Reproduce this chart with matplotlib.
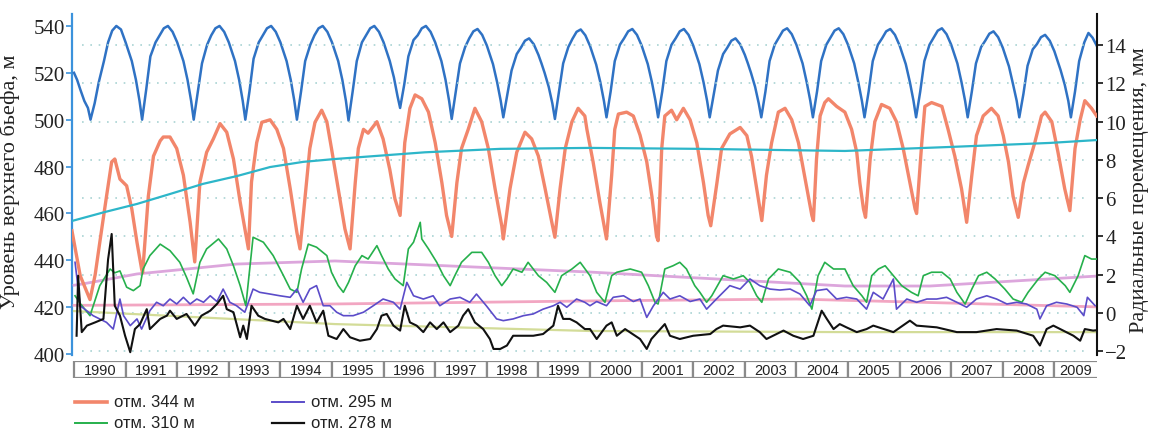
"""Sayano-Shushenskaya dam: upper pool level vs radial displacements, 1990-2009."""

import matplotlib
matplotlib.use("Agg")
import matplotlib.pyplot as plt
from matplotlib.patches import Rectangle
from matplotlib.lines import Line2D

SERIF = ["Liberation Serif", "DejaVu Serif"]
SANS = ["Liberation Sans", "DejaVu Sans"]

YEARS = list(range(1990, 2010))

# upper pool level, m (left axis): one row of 13 readings per year
LEVEL_PHASE = [0.00, 0.06, 0.12, 0.20, 0.27, 0.32, 0.40, 0.48, 0.58, 0.66, 0.74, 0.82, 0.91]
LEVEL = [
    520, 517, 513, 508, 505, 500, 507, 516, 525, 533, 538, 540, 538.5,
    533, 529, 525, 517, 508, 500, 513, 527, 533, 536, 539, 540, 537.5,
    533, 529, 525, 517, 508, 500, 512, 524, 532, 536, 539, 540, 537.5,
    533, 529, 525, 517, 508, 500, 512, 526, 533, 536, 539, 540, 537.5,
    533, 529, 525, 517, 508, 500, 512, 525, 532, 536, 539, 540, 537.5,
    533, 529, 525, 517, 508, 499.6, 512, 525, 533, 536, 539, 540, 537.5,
    533, 529, 525, 518, 510, 505, 515, 527, 534, 536, 539, 540, 537.5,
    533, 529, 525, 517, 508, 500.3, 512, 524, 531, 534.7, 537.7, 538.7, 536.2,
    531.7, 527.7, 523.7, 516, 508, 501, 511, 521, 528, 530.7, 533.7, 534.7, 532.2,
    527.7, 524, 520, 514, 507, 500.3, 512, 524, 531, 534.5, 537.5, 538.5, 536,
    531.5, 527.5, 523.5, 516, 508, 501, 512, 525, 532, 534.7, 537.7, 538.7, 536.2,
    531.7, 527.7, 523.7, 516, 508, 501, 512, 525, 532, 534.7, 537.7, 538.7, 536.2,
    531.7, 527.7, 523.7, 516, 508, 501, 511, 521, 528, 530.7, 533.7, 534.7, 532.2,
    527.7, 524, 520, 514, 507, 501, 512, 525, 532, 535, 538, 539, 536.5,
    532, 528, 524, 516, 508, 501, 512, 525, 532, 535, 538, 539, 536.5,
    532, 528, 524, 516, 508, 501, 512, 525, 532, 534.7, 537.7, 538.7, 536.2,
    531.7, 527.7, 523.7, 516, 508, 501, 512, 525, 532, 535, 538, 539, 536.5,
    532, 528, 524, 516, 508, 501, 512, 524, 531, 533.7, 536.7, 537.7, 535.2,
    530.7, 526.7, 522.7, 515, 508, 501, 511, 523, 530, 532.2, 535.2, 536.2, 533.7,
    529.2, 525.2, 521.2, 515, 508, 501, 512, 525, 533, 537, 535, 531.6, 527,
]

# радиальные перемещения, мм (right axis)
T_344 = [
    1989.96, 1990.12, 1990.31, 1990.41, 1990.50, 1990.63, 1990.73, 1990.79, 1990.89,
    1991.02, 1991.12, 1991.22, 1991.31, 1991.33, 1991.44, 1991.54, 1991.67, 1991.73, 1991.86, 1991.99,
    1992.12, 1992.25, 1992.34, 1992.44, 1992.57, 1992.70, 1992.83, 1992.96,
    1993.09, 1993.22, 1993.38, 1993.44, 1993.54, 1993.64, 1993.80, 1993.93,
    1994.06, 1994.19, 1994.32, 1994.38, 1994.48, 1994.57, 1994.67, 1994.80, 1994.90, 1994.99,
    1995.12, 1995.25, 1995.35, 1995.45, 1995.51, 1995.61, 1995.70, 1995.87, 1995.99,
    1996.12, 1996.22, 1996.32, 1996.41, 1996.51, 1996.61, 1996.74, 1996.87,
    1997.00, 1997.13, 1997.22, 1997.32, 1997.42, 1997.51, 1997.64, 1997.77, 1997.90,
    1998.03, 1998.16, 1998.29, 1998.32, 1998.45, 1998.58, 1998.74, 1998.87,
    1999.00, 1999.13, 1999.26, 1999.32, 1999.42, 1999.52, 1999.65, 1999.77, 1999.90, 1999.94,
    2000.06, 2000.19, 2000.32, 2000.42, 2000.48, 2000.55, 2000.71, 2000.84, 2000.97,
    2001.10, 2001.20, 2001.29, 2001.32, 2001.39, 2001.45, 2001.58, 2001.68, 2001.81, 2001.94,
    2002.07, 2002.20, 2002.29, 2002.34, 2002.46, 2002.55, 2002.71, 2002.91,
    2003.04, 2003.13, 2003.23, 2003.33, 2003.42, 2003.52, 2003.65, 2003.78, 2003.91,
    2004.04, 2004.17, 2004.30, 2004.33, 2004.39, 2004.46, 2004.55, 2004.62, 2004.78, 2004.94,
    2005.07, 2005.17, 2005.23, 2005.30, 2005.34, 2005.43, 2005.52, 2005.65, 2005.81, 2005.94,
    2006.07, 2006.20, 2006.30, 2006.33, 2006.43, 2006.49, 2006.62, 2006.82, 2006.94,
    2007.07, 2007.20, 2007.30, 2007.40, 2007.49, 2007.62, 2007.78, 2007.91,
    2008.01, 2008.11, 2008.20, 2008.30, 2008.40, 2008.49, 2008.62, 2008.75, 2008.82, 2008.95,
    2009.07, 2009.20, 2009.30, 2009.40, 2009.50, 2009.59, 2009.72, 2009.82,
]
D_344 = [
    4.3, 1.95, 0.7, 2.0, 3.7, 6.1, 7.9, 8.05, 7.0,
    6.65, 5.44, 3.7, 2.3, 2.1, 6.1, 8.2, 9.0, 9.2, 9.2, 8.6,
    7.2, 4.75, 2.67, 6.85, 8.4, 9.1, 9.9, 9.45,
    8.05, 5.8, 3.35, 6.85, 8.9, 9.97, 10.1, 9.6,
    8.6, 6.5, 4.2, 3.35, 6.1, 8.6, 9.97, 10.6, 10.0, 8.6,
    6.5, 4.4, 3.35, 6.8, 8.6, 9.6, 9.4, 10.0, 9.1,
    7.5, 5.96, 5.1, 8.9, 10.7, 11.4, 11.2, 10.5,
    8.9, 6.8, 5.1, 4.0, 6.8, 8.6, 9.6, 10.7, 10.0,
    8.6, 6.5, 4.56, 3.87, 6.5, 8.4, 9.45, 9.1,
    8.2, 6.5, 4.74, 3.96, 6.5, 8.6, 10.0, 10.7, 10.3, 9.6,
    7.9, 5.8, 3.87, 7.2, 9.6, 10.4, 10.5, 10.3, 9.3,
    7.9, 6.1, 4.0, 3.78, 8.6, 10.3, 10.6, 10.1, 10.7, 10.1,
    8.9, 6.8, 5.1, 4.56, 6.8, 8.6, 9.36, 9.7,
    9.27, 8.2, 6.5, 4.83, 7.2, 8.9, 10.5, 10.7, 10.1,
    8.9, 7.0, 5.1, 4.83, 8.05, 10.3, 11.0, 11.2, 10.8, 10.5,
    9.6, 8.4, 6.8, 5.44, 5.0, 8.05, 10.0, 10.9, 10.7, 10.0,
    8.6, 6.8, 5.44, 5.2, 8.9, 10.8, 11.0, 10.8, 9.6,
    8.2, 6.5, 4.74, 7.2, 9.27, 10.3, 10.7, 10.3,
    9.27, 7.9, 6.1, 5.0, 6.8, 7.7, 8.9, 10.3, 10.5, 10.0,
    8.4, 6.5, 5.35, 8.6, 10.1, 11.1, 10.7, 10.3,
]

T_310 = [
    1990.02, 1990.12, 1990.31, 1990.50, 1990.70, 1990.79, 1990.89,
    1991.02, 1991.15, 1991.28, 1991.34, 1991.47, 1991.67, 1991.86,
    1992.05, 1992.18, 1992.31, 1992.44, 1992.57, 1992.80, 1992.96,
    1993.09, 1993.22, 1993.33, 1993.47, 1993.67, 1993.86,
    1994.06, 1994.19, 1994.32, 1994.41, 1994.54, 1994.70, 1994.90, 1994.99,
    1995.12, 1995.22, 1995.32, 1995.45, 1995.58, 1995.70, 1995.87, 1995.96,
    1996.09, 1996.22, 1996.38, 1996.48, 1996.58, 1996.71, 1996.74, 1996.87,
    1997.03, 1997.16, 1997.29, 1997.38, 1997.51, 1997.71, 1997.90,
    1998.03, 1998.16, 1998.29, 1998.39, 1998.51, 1998.68, 1998.80,
    1999.00, 1999.16, 1999.32, 1999.45, 1999.65, 1999.81,
    2000.00, 2000.13, 2000.29, 2000.42, 2000.52, 2000.78,
    2001.00, 2001.13, 2001.26, 2001.32, 2001.45, 2001.61, 2001.74, 2001.87,
    2002.03, 2002.13, 2002.26, 2002.36, 2002.58, 2002.78, 2002.97,
    2003.10, 2003.23, 2003.33, 2003.46, 2003.65, 2003.88,
    2004.07, 2004.20, 2004.30, 2004.42, 2004.55, 2004.72, 2004.94,
    2005.10, 2005.27, 2005.36, 2005.46, 2005.59, 2005.72, 2005.88,
    2006.04, 2006.23, 2006.36, 2006.46, 2006.62, 2006.82, 2006.98,
    2007.11, 2007.27, 2007.40, 2007.53, 2007.69, 2007.85,
    2008.04, 2008.20, 2008.37, 2008.49, 2008.69, 2008.82,
    2009.01, 2009.21, 2009.30, 2009.46, 2009.59, 2009.72, 2009.82,
]
D_310 = [
    0.9, 0.5, -0.14, 1.43, 2.3, 2.1, 2.2,
    1.35, 1.17, 1.43, 2.3, 3.0, 3.6, 3.26,
    2.65, 1.87, 1.0, 2.65, 3.35, 3.87, 3.35,
    2.47, 1.43, 0.38, 3.96, 3.7, 3.0,
    1.95, 1.25, 1.08, 2.3, 3.6, 3.44, 3.0, 2.13,
    1.43, 1.08, 1.6, 2.47, 3.0, 2.82, 3.52, 3.0,
    2.3, 1.78, 1.43, 3.35, 3.7, 4.74, 3.87, 3.35,
    2.65, 1.95, 1.43, 1.95, 2.65, 3.17, 3.17,
    2.65, 1.95, 1.43, 1.78, 2.3, 2.13, 2.65,
    1.95, 1.6, 1.08, 1.95, 2.3, 2.65,
    1.95, 1.08, 0.56, 1.95, 2.13, 2.3,
    2.13, 1.43, 0.56, 0.47, 2.3, 2.47, 2.65, 2.3,
    1.43, 1.08, 0.56, 0.9, 1.95, 1.78, 1.95,
    1.6, 0.9, 0.56, 1.78, 2.3, 2.13,
    1.6, 0.9, 0.2, 1.95, 2.65, 2.3, 2.3,
    1.43, 0.9, 0.56, 1.95, 2.3, 2.47, 1.95,
    1.43, 1.08, 0.9, 1.95, 2.13, 2.13, 1.78,
    1.08, 0.47, 1.25, 1.95, 2.13, 1.78,
    1.25, 0.73, 0.56, 1.08, 1.78, 2.13,
    1.95, 1.43, 1.08, 1.95, 3.0, 2.82, 2.82,
]

T_295 = [
    1990.02, 1990.12, 1990.37, 1990.63, 1990.76, 1990.89, 1990.96,
    1991.09, 1991.22, 1991.31, 1991.47, 1991.60, 1991.73, 1991.86, 1991.99,
    1992.12, 1992.25, 1992.38, 1992.51, 1992.64, 1992.77, 1992.89,
    1993.02, 1993.15, 1993.31, 1993.47, 1993.60, 1993.80, 1993.99,
    1994.19, 1994.32, 1994.44, 1994.57, 1994.70, 1994.83, 1994.96,
    1995.09, 1995.22, 1995.41, 1995.61, 1995.80, 1995.99,
    1996.19, 1996.32, 1996.45, 1996.58, 1996.77, 1996.96,
    1997.09, 1997.29, 1997.48, 1997.67, 1997.80, 1997.99,
    1998.19, 1998.32, 1998.51, 1998.71, 1998.90,
    1999.09, 1999.29, 1999.42, 1999.55, 1999.74, 1999.90,
    2000.00, 2000.13, 2000.32, 2000.45, 2000.65, 2000.84, 2000.97,
    2001.10, 2001.23, 2001.42, 2001.55, 2001.74, 2001.94,
    2002.13, 2002.26, 2002.45, 2002.58, 2002.71, 2002.91,
    2003.10, 2003.29, 2003.49, 2003.68, 2003.88,
    2004.07, 2004.26, 2004.39, 2004.59, 2004.78, 2004.97,
    2005.17, 2005.36, 2005.49, 2005.68, 2005.88, 2005.94,
    2006.14, 2006.33, 2006.53, 2006.72, 2006.91,
    2007.11, 2007.30, 2007.49, 2007.69, 2007.88,
    2008.08, 2008.27, 2008.46, 2008.66, 2008.72, 2008.85,
    2009.04, 2009.24, 2009.44, 2009.57, 2009.64, 2009.79,
]
D_295 = [
    2.65, 0.38, -0.14, -0.49, -0.84, 0.73, -0.14,
    -0.66, -0.31, -0.84, 0.12, 0.56, 0.38, 0.73, 0.47,
    0.82, 0.47, 0.73, 0.56, 0.9, 0.6, 1.25,
    0.56, 0.38, 0.04, 1.25, 1.08, 0.99, 0.9,
    0.82, 1.25, 0.56, 1.25, 1.43, 0.38, 0.38,
    0.04, -0.14, -0.14, 0.04, 0.38, 0.73,
    0.56, 0.2, 1.6, 0.9, 0.73, 0.9,
    0.38, 0.73, 0.82, 0.56, 0.99, 0.38,
    -0.31, -0.4, -0.31, -0.14, -0.05,
    0.2, 0.38, 0.56, 0.3, 0.73, 0.56,
    0.38, 0.6, 0.38, 0.82, 0.9, 0.6, 0.73,
    -0.23, 0.38, 1.08, 0.73, 0.9, 0.6,
    0.73, 0.2, 0.73, 1.08, 1.43, 1.25,
    1.78, 1.43, 1.25, 1.2, 1.25,
    0.99, 0.38, 1.17, 1.25, 0.73, 0.82,
    0.73, 0.2, 1.08, 0.73, 1.78, 0.2,
    0.73, 0.56, 0.73, 0.73, 0.82,
    0.56, 0.3, 0.73, 0.9, 0.73,
    0.47, 0.56, 0.47, 0.2, -0.31, 0.38,
    0.56, 0.47, 0.3, -0.14, 0.82, 0.38,
]

T_278 = [
    1990.05, 1990.08, 1990.15, 1990.25, 1990.41, 1990.57, 1990.66, 1990.73, 1990.79, 1990.89, 1990.99,
    1991.09, 1991.18, 1991.28, 1991.41, 1991.47, 1991.67, 1991.80, 1991.86, 1991.99,
    1992.18, 1992.34, 1992.47, 1992.64, 1992.77, 1992.89, 1992.96,
    1993.09, 1993.22, 1993.28, 1993.35, 1993.44, 1993.57, 1993.70, 1993.96,
    1994.06, 1994.19, 1994.32, 1994.44, 1994.57, 1994.70, 1994.83, 1994.93,
    1995.09, 1995.22, 1995.35, 1995.54, 1995.74, 1995.87, 1995.96,
    1996.06, 1996.19, 1996.32, 1996.41, 1996.51, 1996.64, 1996.77, 1996.90,
    1997.03, 1997.16, 1997.29, 1997.45, 1997.54, 1997.64, 1997.77, 1997.93,
    1998.06, 1998.13, 1998.26, 1998.39, 1998.51, 1998.71, 1998.90,
    1999.09, 1999.29, 1999.38, 1999.48, 1999.61, 1999.74, 1999.90,
    2000.00, 2000.13, 2000.32, 2000.42, 2000.52, 2000.68, 2000.97,
    2001.10, 2001.19, 2001.45, 2001.55, 2001.74,
    2002.00, 2002.33, 2002.45, 2002.58, 2002.91,
    2003.10, 2003.29, 2003.42, 2003.75, 2003.94,
    2004.13, 2004.33, 2004.49, 2004.59, 2004.72, 2004.84, 2004.97,
    2005.17, 2005.36, 2005.49, 2005.88,
    2006.20, 2006.33, 2006.72,
    2007.11, 2007.49, 2007.88,
    2008.27, 2008.59, 2008.72, 2008.85, 2008.98,
    2009.37, 2009.50, 2009.59, 2009.75, 2009.82,
]
D_278 = [
    -1.19, 1.95, -1.0, -0.66, -0.49, -0.31, 2.8, 4.13, 0.38, -0.14, -1.19,
    -2.05, -0.84, -0.58, 0.2, -0.84, -0.31, -0.14, 0.12, -0.31,
    -0.05, -0.66, -0.14, 0.12, 0.47, 0.9, 0.2,
    0.04, -1.27, -0.66, -1.36, 0.38, -0.14, -0.31, -0.49,
    -0.31, -0.84, 0.38, -0.31, 0.38, -0.49, 0.12, -1.19,
    -1.36, -0.84, -1.27, -1.45, -1.36, -0.84, -0.14,
    -0.05, -0.66, -0.92, 0.38, -0.49, -0.66, -1.0, -0.49,
    -0.84, -0.49, -1.0, -0.66, -0.14, 0.2, -0.49, -0.84,
    -1.36, -1.88, -1.88, -1.7, -1.19, -1.19, -1.19,
    -1.1, -0.66, 0.38, -0.31, -0.31, -0.49, -0.84,
    -0.84, -1.36, -0.66, -0.49, -1.19, -0.84, -1.36,
    -1.88, -1.36, -0.58, -1.19, -1.36,
    -1.19, -1.1, -0.84, -0.66, -0.75,
    -0.66, -1.0, -1.36, -0.92, -1.19,
    -1.36, -1.19, 0.12, -0.31, -0.84, -0.58, -0.75,
    -1.0, -0.84, -0.66, -1.0,
    -0.4, -0.66, -0.75,
    -1.0, -1.0, -0.84,
    -0.92, -1.19, -1.7, -0.84, -0.66,
    -1.19, -1.45, -0.84, -0.92, -0.9,
]

# smoothed trends
T_TREND_344 = [1989.96, 1990.60, 1991.22, 1991.86, 1992.50, 1993.16, 1993.80, 1994.44,
               1995.06, 1996.80, 1998.26, 2000.00, 2002.13, 2004.94, 2006.98, 2008.91, 2009.82]
D_TREND_344 = [4.81, 5.28, 5.70, 6.22, 6.75, 7.16, 7.63, 7.90,
               8.05, 8.40, 8.58, 8.63, 8.58, 8.47, 8.68, 8.89, 9.04]
T_TREND_310 = [1990.00, 1990.17, 1991.22, 1993.16, 1995.06, 2000.00, 2004.94, 2006.59, 2009.82]
D_TREND_310 = [1.45, 1.52, 2.04, 2.56, 2.72, 2.14, 1.41, 1.41, 1.93]
T_TREND_295 = [1990.00, 1995.00, 2000.00, 2004.00, 2009.82]
D_TREND_295 = [0.40, 0.47, 0.63, 0.73, 0.32]
T_TREND_278 = [1990.00, 1995.06, 2000.00, 2005.00, 2009.82]
D_TREND_278 = [0.10, -0.58, -0.94, -1.00, -1.00]

C_LEVEL = "#2f72c4"
C_344 = "#f2866b"
C_310 = "#26b04c"
C_295 = "#5b4cc9"
C_278 = "#111111"

W, H = 1149, 431
T0, T1 = 1989.961, 2009.826


def draw():
    fig = plt.figure(figsize=(W / 100, H / 100), dpi=100)
    ax = fig.add_axes([72 / W, 1 - 356 / H, 1025 / W, 341 / H])
    ax2 = ax.twinx()

    # upper pool level
    level_t = [y + p for y in YEARS for p in LEVEL_PHASE]
    ax.plot(level_t, LEVEL, color=C_LEVEL, lw=1.8, zorder=3)

    ax.set_xlim(T0, T1)
    ax.set_ylim(399.57, 545.1)
    ax2.set_ylim(-2.196, 15.63)

    # dotted grid at the displacement ticks
    ticks_r = list(range(-2, 15, 2))
    ax2.hlines(ticks_r, 1990.15, 2009.7, colors="#a9d3d3",
               linestyles=(0, (1, 4)), lw=1.2, zorder=1)

    # trends
    ax2.plot(T_TREND_310, D_TREND_310, color="#dca6dc", lw=2.0, zorder=2)
    ax2.plot(T_TREND_295, D_TREND_295, color="#f2a6c2", lw=2.0, zorder=2)
    ax2.plot(T_TREND_278, D_TREND_278, color="#d3dc98", lw=1.6, zorder=2)

    ax2.plot(T_344, D_344, color=C_344, lw=2.4, zorder=3)
    ax2.plot(T_TREND_344, D_TREND_344, color="#2db6c9", lw=1.6, zorder=4)
    ax2.plot(T_310, D_310, color=C_310, lw=1.2, zorder=4)
    ax2.plot(T_295, D_295, color=C_295, lw=1.2, zorder=5)
    ax2.plot(T_278, D_278, color=C_278, lw=1.5, zorder=6)

    # axes styling
    for a in (ax, ax2):
        a.spines["top"].set_visible(False)
        a.spines["bottom"].set_visible(False)
        a.set_xticks([])
        a.patch.set_visible(False)
    ax2.spines["left"].set_visible(False)
    ax.spines["right"].set_visible(False)
    ax.spines["left"].set_color("#3b92dc")
    ax.spines["left"].set_linewidth(1.6)
    ax2.spines["right"].set_color("#111111")
    ax2.spines["right"].set_linewidth(1.5)

    ax.set_yticks(range(400, 541, 20))
    ax.tick_params(axis="y", colors="#3b92dc", labelcolor="#222222",
                   length=4, width=1.2, pad=1)
    ax2.set_yticks(ticks_r)
    ax2.set_yticklabels([str(v).replace("-", "\u2212") for v in ticks_r])
    ax2.tick_params(axis="y", colors="#111111", labelcolor="#222222",
                    length=4, width=1.2, pad=2)
    for lab in ax.get_yticklabels() + ax2.get_yticklabels():
        lab.set_fontfamily(SERIF)
        lab.set_fontsize(15)

    ax.set_ylabel("Уровень верхнего бьефа, м", family=SERIF, fontsize=16,
                  color="#222222")
    ax.yaxis.set_label_coords(-0.0507, 0.51)
    ax2.set_ylabel("Радиальные перемещения, мм", family=SERIF, fontsize=16,
                   color="#222222", rotation=90)
    ax2.yaxis.set_label_coords(1.032, 0.487)

    # year strip
    ys = fig.add_axes([72 / W, 1 - 379 / H, 1025 / W, 17 / H])
    ys.set_xlim(T0, T1)
    ys.set_ylim(0, 1)
    ys.axis("off")
    for yr in YEARS:
        ys.add_patch(Rectangle((yr, 0), 1, 1, facecolor="white",
                               edgecolor="#8a8a8a", lw=1.6, clip_on=True))
        right = min(yr + 1, T1)
        ys.text((yr + right) / 2, 0.45, str(yr), ha="center", va="center",
                fontsize=10.5, family=SANS, color="#222222")

    # legend
    items = [("отм. 344 м", C_344, 2.6, 75, 403),
             ("отм. 310 м", C_310, 1.4, 75, 424),
             ("отм. 295 м", C_295, 1.4, 272, 403),
             ("отм. 278 м", C_278, 1.6, 272, 424)]
    for label, color, lw, x0, y0 in items:
        fig.add_artist(Line2D([x0 / W, (x0 + 32) / W], [1 - y0 / H, 1 - y0 / H],
                              color=color, lw=lw))
        fig.text((x0 + 39) / W, 1 - y0 / H, label, ha="left", va="center",
                 fontsize=12, family=SANS, color="#222222")

    return fig


def main():
    fig = draw()
    fig.savefig("out.png", dpi=100, facecolor="white")
    plt.close(fig)


if __name__ == "__main__":
    main()
